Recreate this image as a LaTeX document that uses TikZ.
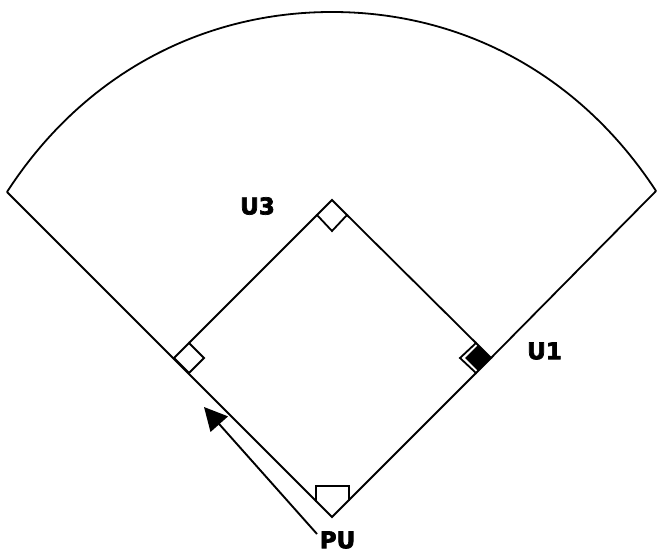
\documentclass[tikz,border=0pt]{standalone}
\usepackage{fontspec}
\setmainfont{DejaVu Sans}
\newfontfamily\heavyfont[FakeBold=3]{DejaVu Sans Bold}
\usetikzlibrary{arrows.meta}
\tikzset{
  fieldline/.style={draw=black,line width=1.8pt,line join=miter},
  pointer/.style={draw=black,line width=1.9pt,-{Triangle[length=23pt,width=23pt]}},
  player/.style={font=\fontsize{23}{25}\selectfont\heavyfont,text=black,inner sep=0pt}
}
\begin{document}
\begin{tikzpicture}[x=1pt,y=-1pt]
\useasboundingbox (0,0) rectangle (658,553);
% field corners
\coordinate (leftfoul) at (7,192);
\coordinate (rightfoul) at (656,191);
\coordinate (apex) at (332,517);
\coordinate (plateL) at (316,502);
\coordinate (plateTL) at (316,486);
\coordinate (plateTR) at (349,486);
\coordinate (plateR) at (349,501);
\coordinate (firstT) at (476,343);
\coordinate (firstR) at (491,358);
\coordinate (firstB) at (476,373);
\coordinate (firstL) at (460,358);
\coordinate (blackT) at (478,345);
\coordinate (blackR) at (491,358);
\coordinate (blackB) at (478,371);
\coordinate (blackL) at (465,358);
\coordinate (secondT) at (332,200);
\coordinate (secondR) at (347,215);
\coordinate (secondB) at (332,231);
\coordinate (secondL) at (317,215);
\coordinate (thirdT) at (189,343);
\coordinate (thirdR) at (204,358);
\coordinate (thirdB) at (189,373);
\coordinate (thirdL) at (174,358);
\coordinate (arrowstart) at (317,534);
\coordinate (arrowtip) at (204,407);
% outfield
\draw[fieldline] (leftfoul) .. controls (82,76) and (200,12) .. (332,12)
  .. controls (464,12) and (581,76) .. (rightfoul);
% foul lines
\draw[fieldline] (leftfoul) -- (apex) -- (firstB);
\draw[fieldline] (firstR) -- (rightfoul);
% base paths
\draw[fieldline] (thirdT) -- (secondL);
\draw[fieldline] (secondR) -- (firstT);
% bases
\draw[fieldline] (plateL) -- (plateTL) -- (plateTR) -- (plateR);
\draw[fieldline] (secondL) -- (secondT) -- (secondR) -- (secondB) -- cycle;
\draw[fieldline] (thirdL) -- (thirdT) -- (thirdR) -- (thirdB) -- cycle;
\draw[fieldline] (firstT) -- (firstR) -- (firstB) -- (firstL) -- cycle;
\fill[black] (blackT) -- (blackR) -- (blackB) -- (blackL) -- cycle;
% pointer
\draw[pointer] (arrowstart) -- (arrowtip);
% labels
\node[player] (uthree) at (257.5,206) {U3};
\node[player] (uone) at (544.5,351) {U1};
\node[player] (pu) at (337.5,540) {PU};
\end{tikzpicture}
\end{document}
